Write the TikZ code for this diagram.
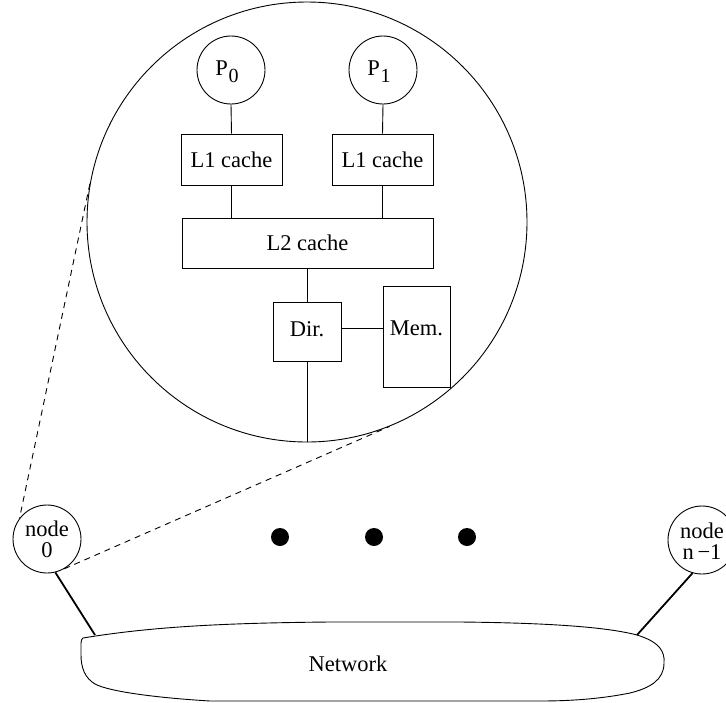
\documentclass[tikz,border=0pt]{standalone}
\usepackage{fontspec}
\setmainfont{Liberation Serif}
\newcommand{\psub}[1]{P\kern0.5pt\raisebox{-7pt}{\fontsize{20}{20}\selectfont #1}}
\begin{document}
\begin{tikzpicture}[x=1pt,y=-1pt,line width=0.9pt,
  every node/.style={font=\fontsize{22.5}{21}\selectfont},
  cbox/.style={draw,rectangle,inner sep=0pt},
  proc/.style={draw,circle,minimum size=68pt,inner sep=0pt},
  peer/.style={draw,circle,minimum size=68pt,inner sep=0pt},
  dot/.style={fill,circle,minimum size=18pt,inner sep=0pt},
  link/.style={line width=1.8pt},
  zoomline/.style={dash pattern=on 6pt off 5pt}]
\useasboundingbox (0,0) rectangle (726,702);

% magnified view of one node
\node[draw,circle,minimum size=440pt,inner sep=0pt] (detail) at (307,222) {};

\node[proc] (p0) at (231,70) {};
\node at (227,72) {\psub{0}};
\node[proc] (p1) at (383,70) {};
\node at (379,72) {\psub{1}};

\node[cbox,minimum width=101pt,minimum height=51pt] (l1a) at (231.5,159.5) {L1 cache};
\node[cbox,minimum width=101pt,minimum height=51pt] (l1b) at (382.5,159.5) {L1 cache};
\node[cbox,minimum width=251pt,minimum height=50pt] (l2) at (307.5,243) {L2 cache};
\node[cbox,minimum width=68pt,minimum height=59pt] (dir) at (307,331.5) {};
\node at (307,329) {Dir.};
\node[cbox,minimum width=67pt,minimum height=101pt] (mem) at (416.5,336.5) {};
\node at (416.5,328) {Mem.};

\draw (p0.south) -- (l1a.north);
\draw (p1.south) -- (l1b.north);
\draw (l1a.south) -- (l1a.south |- l2.north);
\draw (l1b.south) -- (l1b.south |- l2.north);
\draw (l2.south -| dir.north) -- (dir.north);
\draw (dir.south) -- (detail.south);
\coordinate (dm) at (341,328);
\draw (dm) -- (dm -| mem.west);

% the machine nodes
\node[peer,align=center] (n0) at (47,539) {node\\0};
\node[peer] (nn) at (702,540) {};
\node[align=center] at (702,541) {node\\n\,\textminus1};

\node[dot] (d1) at (280,537) {};
\node[dot] (d2) at (374,537) {};
\node[dot] (d3) at (467,537) {};

\draw[zoomline] (detail.170) -- (n0.143);
\draw[zoomline] (n0.-60) -- (detail.-68);

% interconnection network
\draw (83,638) .. controls (150,627) and (220,623) .. (330,622) -- (460,622)
  .. controls (560,623) and (610,628) .. (637,635)
  .. controls (660,642) and (665,652) .. (664,663)
  .. controls (664,680) and (650,688) .. (630,693)
  .. controls (600,699) and (570,701) .. (540,701) -- (210,701)
  .. controls (160,698) and (110,692) .. (95,684)
  .. controls (85,678) and (81,668) .. (81,655) -- (81,643)
  .. controls (81,640) and (82,639) .. cycle;
\node (net) at (348,664) {Network};
\coordinate (netL) at (95,635);
\coordinate (netR) at (637,635);

\draw[link] (n0.-76) -- (netL);
\draw[link] (nn.-106) -- (netR);
\end{tikzpicture}
\end{document}
